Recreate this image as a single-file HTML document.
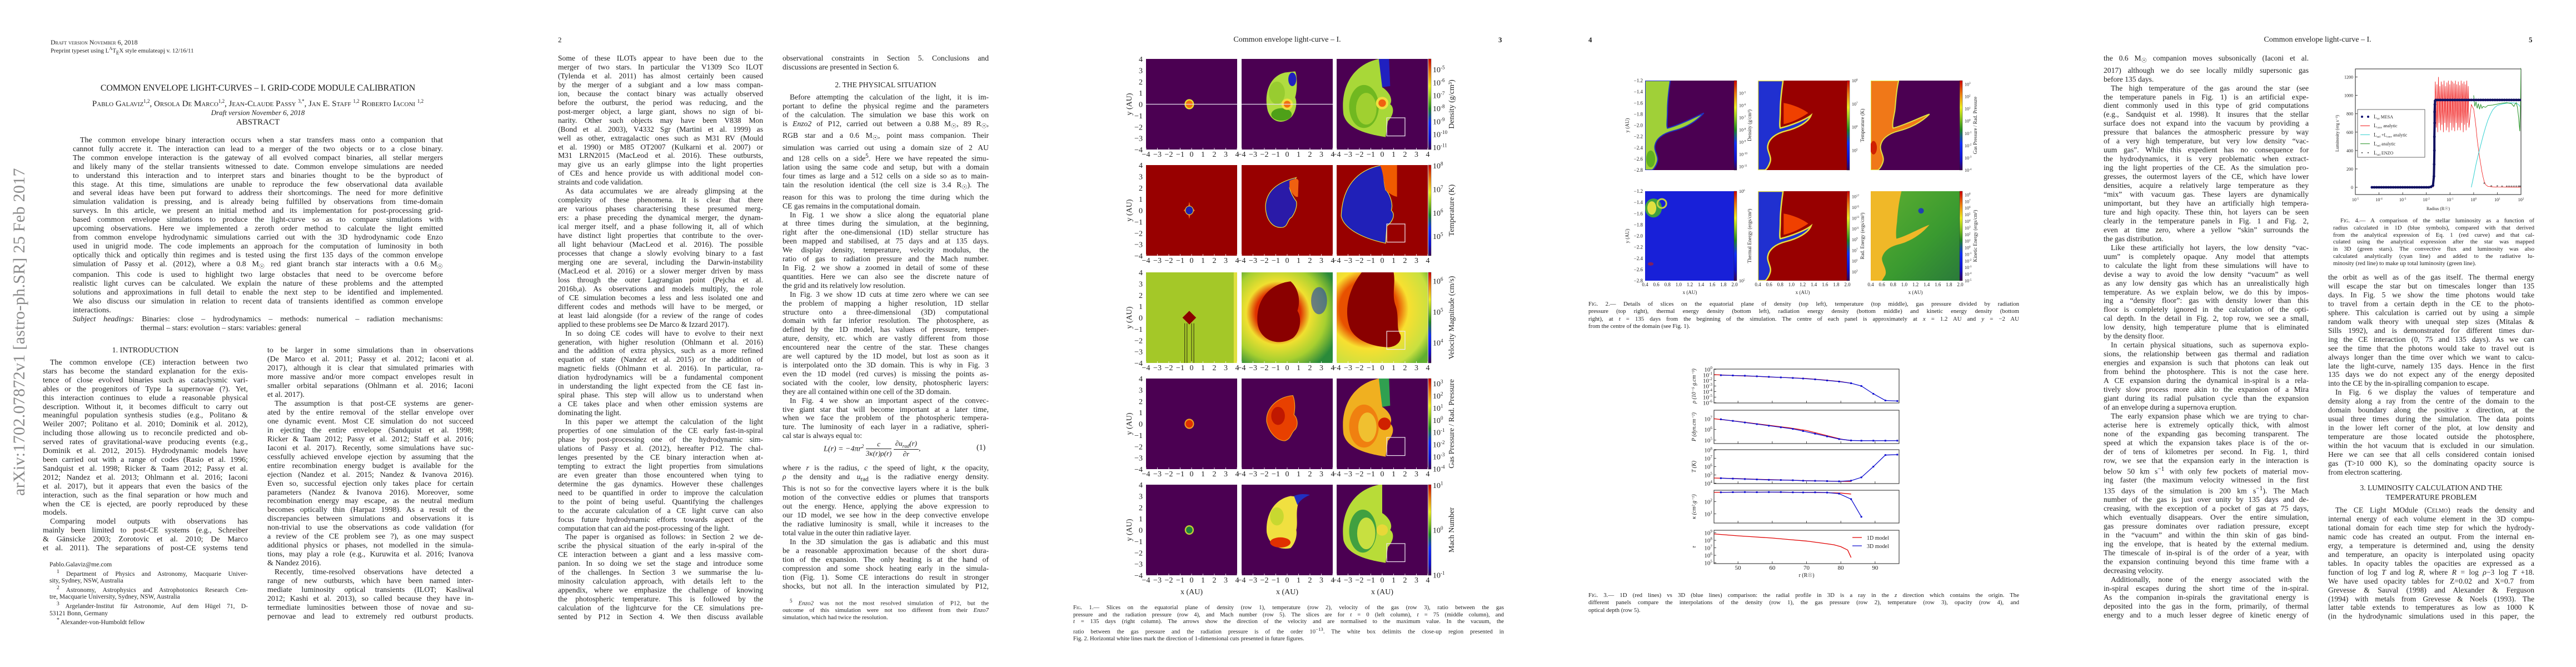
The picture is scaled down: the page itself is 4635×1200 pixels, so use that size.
<!DOCTYPE html>
<html><head><meta charset="utf-8">
<style>
html,body{margin:0;padding:0;background:#fff}
body{width:4635px;height:1200px;position:relative;overflow:hidden}
.pg{position:absolute;top:0;width:927px;height:1200px;background:#fff;overflow:hidden}
.t{position:absolute;font-family:"Liberation Serif","DejaVu Serif",serif;color:#1c1c1c}
.t div{white-space:nowrap;text-align:justify;text-align-last:justify;overflow:hidden}
.t div.e{text-align-last:left}
.t div.i{text-indent:13px}
.ab{position:absolute;font-family:"Liberation Serif",serif;color:#1c1c1c;white-space:nowrap}
.c{text-align:center}
.sc{font-variant:small-caps}
svg text{font-family:"Liberation Serif",serif}
</style></head>
<body>

<!-- ================= PAGE 1 ================= -->
<div class="pg" style="left:0">
  <div class="ab" style="left:18px;top:892px;transform-origin:0 0;transform:rotate(-90deg);font-size:30px;color:#8a8a8a;letter-spacing:0.3px">arXiv:1702.07872v1  [astro-ph.SR]  25 Feb 2017</div>
  <div class="ab sc" style="left:91px;top:69px;font-size:12px">Draft version November 6, 2018</div>
  <div class="ab" style="left:91px;top:83px;font-size:11px">Preprint typeset using L<sup style="font-size:8px">A</sup>T<sub style="font-size:9px">E</sub>X style emulateapj v. 12/16/11</div>
  <div class="ab c" style="left:100px;width:728px;top:150px;font-size:16px;letter-spacing:-0.2px">COMMON ENVELOPE LIGHT-CURVES – I. GRID-CODE MODULE CALIBRATION</div>
  <div class="ab c sc" style="left:100px;width:728px;top:177px;font-size:15px">Pablo Galaviz<sup style="font-size:9px">1,2</sup>, Orsola De Marco<sup style="font-size:9px">1,2</sup>, Jean-Claude Passy <sup style="font-size:9px">3,*</sup>, Jan E. Staff <sup style="font-size:9px">1,2</sup> Roberto Iaconi <sup style="font-size:9px">1,2</sup></div>
  <div class="ab c" style="left:100px;width:728px;top:195px;font-size:13px;font-style:italic">Draft version November 6, 2018</div>
  <div class="ab c" style="left:100px;width:728px;top:212px;font-size:15px">ABSTRACT</div>
  <div class="t" style="left:131px;top:245px;width:666px;font-size:14px;line-height:15.9px">
<div class="i">The common envelope binary interaction occurs when a star transfers mass onto a companion that</div>
<div>cannot fully accrete it. The interaction can lead to a merger of the two objects or to a close binary.</div>
<div>The common envelope interaction is the gateway of all evolved compact binaries, all stellar mergers</div>
<div>and likely many of the stellar transients witnessed to date. Common envelope simulations are needed</div>
<div>to understand this interaction and to interpret stars and binaries thought to be the byproduct of</div>
<div>this stage. At this time, simulations are unable to reproduce the few observational data available</div>
<div>and several ideas have been put forward to address their shortcomings. The need for more definitive</div>
<div>simulation validation is pressing, and is already being fulfilled by observations from time-domain</div>
<div>surveys. In this article, we present an initial method and its implementation for post-processing grid-</div>
<div>based common envelope simulations to produce the light-curve so as to compare simulations with</div>
<div>upcoming observations. Here we implemented a zeroth order method to calculate the light emitted</div>
<div>from common envelope hydrodynamic simulations carried out with the 3D hydrodynamic code Enzo</div>
<div>used in unigrid mode. The code implements an approach for the computation of luminosity in both</div>
<div>optically thick and optically thin regimes and is tested using the first 135 days of the common envelope</div>
<div>simulation of Passy et al. (2012), where a 0.8 M<sub>☉</sub> red giant branch star interacts with a 0.6 M<sub>☉</sub></div>
<div>companion. This code is used to highlight two large obstacles that need to be overcome before</div>
<div>realistic light curves can be calculated. We explain the nature of these problems and the attempted</div>
<div>solutions and approximations in full detail to enable the next step to be identified and implemented.</div>
<div>We also discuss our simulation in relation to recent data of transients identified as common envelope</div>
<div class="e">interactions.</div>
<div><i>Subject headings:</i> Binaries: close – hydrodynamics – methods: numerical – radiation mechanisms:</div>
<div class="e" style="padding-left:122px">thermal – stars: evolution – stars: variables: general</div>
  </div>
  <div class="ab c" style="left:77px;width:369px;top:623px;font-size:14px">1. INTRODUCTION</div>
  <div class="t" style="left:77px;top:645px;width:369px;font-size:14px;line-height:15.9px">
<div class="i">The common envelope (CE) interaction between two</div>
<div>stars has become the standard explanation for the exis-</div>
<div>tence of close evolved binaries such as cataclysmic vari-</div>
<div>ables or the progenitors of Type Ia supernovae (?). Yet,</div>
<div>this interaction continues to elude a reasonable physical</div>
<div>description. Without it, it becomes difficult to carry out</div>
<div>meaningful population synthesis studies (e.g., Politano &amp;</div>
<div>Weiler 2007; Politano et al. 2010; Dominik et al. 2012),</div>
<div>including those allowing us to reconcile predicted and ob-</div>
<div>served rates of gravitational-wave producing events (e.g.,</div>
<div>Dominik et al. 2012, 2015). Hydrodynamic models have</div>
<div>been carried out with a range of codes (Rasio et al. 1996;</div>
<div>Sandquist et al. 1998; Ricker &amp; Taam 2012; Passy et al.</div>
<div>2012; Nandez et al. 2013; Ohlmann et al. 2016; Iaconi</div>
<div>et al. 2017), but it appears that even the basics of the</div>
<div>interaction, such as the final separation or how much and</div>
<div>when the CE is ejected, are poorly reproduced by these</div>
<div class="e">models.</div>
<div class="i">Comparing model outputs with observations has</div>
<div>mainly been limited to post-CE systems (e.g., Schreiber</div>
<div>&amp; Gänsicke 2003; Zorotovic et al. 2010; De Marco</div>
<div>et al. 2011). The separations of post-CE systems tend</div>
  </div>
  <div class="t" style="left:89px;top:1010px;width:357px;font-size:11.5px;line-height:12.7px">
<div class="e">Pablo.Galaviz@me.com</div>
<div class="i"><sup>1</sup> Department of Physics and Astronomy, Macquarie Univer-</div>
<div class="e">sity, Sydney, NSW, Australia</div>
<div class="i"><sup>2</sup> Astronomy, Astrophysics and Astrophotonics Research Cen-</div>
<div class="e">tre, Macquarie University, Sydney, NSW, Australia</div>
<div class="i"><sup>3</sup> Argelander-Institut für Astronomie, Auf dem Hügel 71, D-</div>
<div class="e">53121 Bonn, Germany</div>
<div class="e" style="padding-left:13px"><sup>*</sup> Alexander-von-Humboldt fellow</div>
  </div>
  <div class="t" style="left:481px;top:623px;width:371px;font-size:14px;line-height:15.97px">
<div>to be larger in some simulations than in observations</div>
<div>(De Marco et al. 2011; Passy et al. 2012; Iaconi et al.</div>
<div>2017), although it is clear that simulated primaries with</div>
<div>more massive and/or more compact envelopes result in</div>
<div>smaller orbital separations (Ohlmann et al. 2016; Iaconi</div>
<div class="e">et al. 2017).</div>
<div class="i">The assumption is that post-CE systems are gener-</div>
<div>ated by the entire removal of the stellar envelope over</div>
<div>one dynamic event. Most CE simulation do not succeed</div>
<div>in ejecting the entire envelope (Sandquist et al. 1998;</div>
<div>Ricker &amp; Taam 2012; Passy et al. 2012; Staff et al. 2016;</div>
<div>Iaconi et al. 2017). Recently, some simulations have suc-</div>
<div>cessfully achieved envelope ejection by assuming that the</div>
<div>entire recombination energy budget is available for the</div>
<div>ejection (Nandez et al. 2015; Nandez &amp; Ivanova 2016).</div>
<div>Even so, successful ejection only takes place for certain</div>
<div>parameters (Nandez &amp; Ivanova 2016). Moreover, some</div>
<div>recombination energy may escape, as the neutral medium</div>
<div>becomes optically thin (Harpaz 1998). As a result of the</div>
<div>discrepancies between simulations and observations it is</div>
<div>non-trivial to use the observations as code validation (for</div>
<div>a review of the CE problem see ?), as one may suspect</div>
<div>additional physics or phases, not modelled in the simula-</div>
<div>tions, may play a role (e.g., Kuruwita et al. 2016; Ivanova</div>
<div class="e">&amp; Nandez 2016).</div>
<div class="i">Recently, time-resolved observations have detected a</div>
<div>range of new outbursts, which have been named inter-</div>
<div>mediate luminosity optical transients (ILOT; Kasliwal</div>
<div>2012; Kashi et al. 2013), so called because they have in-</div>
<div>termediate luminosities between those of novae and su-</div>
<div>pernovae and lead to extremely red outburst products.</div>
  </div>
</div>

<!-- ================= PAGE 2 ================= -->
<div class="pg" style="left:927px">
  <div class="ab" style="left:77px;top:64px;font-size:13px">2</div>
  <div class="t" style="left:77px;top:97px;width:369px;font-size:13.6px;line-height:15.95px">
<div>Some of these ILOTs appear to have been due to the</div>
<div>merger of two stars. In particular the V1309 Sco ILOT</div>
<div>(Tylenda et al. 2011) has almost certainly been caused</div>
<div>by the merger of a subgiant and a low mass compan-</div>
<div>ion, because the contact binary was actually observed</div>
<div>before the outburst, the period was reducing, and the</div>
<div>post-merger object, a large giant, shows no sign of bi-</div>
<div>narity. Other such objects may have been V838 Mon</div>
<div>(Bond et al. 2003), V4332 Sgr (Martini et al. 1999) as</div>
<div>well as other, extragalactic ones such as M31 RV (Mould</div>
<div>et al. 1990) or M85 OT2007 (Kulkarni et al. 2007) or</div>
<div>M31 LRN2015 (MacLeod et al. 2016). These outbursts,</div>
<div>may give us an early glimpse into the light properties</div>
<div>of CEs and hence provide us with additional model con-</div>
<div class="e">straints and code validation.</div>
<div class="i">As data accumulates we are already glimpsing at the</div>
<div>complexity of these phenomena. It is clear that there</div>
<div>are various phases characterising these presumed merg-</div>
<div>ers: a phase preceding the dynamical merger, the dynam-</div>
<div>ical merger itself, and a phase following it, all of which</div>
<div>have distinct light properties that contribute to the over-</div>
<div>all light behaviour (MacLeod et al. 2016). The possible</div>
<div>processes that change a slowly evolving binary to a fast</div>
<div>merging one are several, including the Darwin-instability</div>
<div>(MacLeod et al. 2016) or a slower merger driven by mass</div>
<div>loss through the outer Lagrangian point (Pejcha et al.</div>
<div>2016b,a). As observations and models multiply, the role</div>
<div>of CE simulation becomes a less and less isolated one and</div>
<div>different codes and methods will have to be merged, or</div>
<div>at least laid alongside (for a review of the range of codes</div>
<div class="e">applied to these problems see De Marco &amp; Izzard 2017).</div>
<div class="i">In so doing CE codes will have to evolve to their next</div>
<div>generation, with higher resolution (Ohlmann et al. 2016)</div>
<div>and the addition of extra physics, such as a more refined</div>
<div>equation of state (Nandez et al. 2015) or the addition of</div>
<div>magnetic fields (Ohlmann et al. 2016). In particular, ra-</div>
<div>diation hydrodynamics will be a fundamental component</div>
<div>in understanding the light expected from the CE fast in-</div>
<div>spiral phase. This step will allow us to understand when</div>
<div>a CE takes place and when other emission systems are</div>
<div class="e">dominating the light.</div>
<div class="i">In this paper we attempt the calculation of the light</div>
<div>properties of one simulation of the CE early fast-in-spiral</div>
<div>phase by post-processing one of the hydrodynamic sim-</div>
<div>ulations of Passy et al. (2012), hereafter P12. The chal-</div>
<div>lenges presented by the CE binary interaction when at-</div>
<div>tempting to extract the light properties from simulations</div>
<div>are even greater than those encountered when tying to</div>
<div>determine the gas dynamics. However these challenges</div>
<div>need to be quantified in order to improve the calculation</div>
<div>to the point of being useful. Quantifying the challenges</div>
<div>to the accurate calculation of a CE light curve can also</div>
<div>focus future hydrodynamic efforts towards aspect of the</div>
<div class="e">computation that can aid the post-processing of the light.</div>
<div class="i">The paper is organised as follows: in Section 2 we de-</div>
<div>scribe the physical situation of the early in-spiral of the</div>
<div>CE interaction between a giant and a less massive com-</div>
<div>panion. In so doing we set the stage and introduce some</div>
<div>of the challenges. In Section 3 we summarise the lu-</div>
<div>minosity calculation approach, with details left to the</div>
<div>appendix, where we emphasize the challenge of knowing</div>
<div>the photospheric temperature. This is followed by the</div>
<div>calculation of the lightcurve for the CE simulations pre-</div>
<div>sented by P12 in Section 4. We then discuss available</div>
  </div>
  <div class="t" style="left:481px;top:97px;width:371px;font-size:13.6px;line-height:15.95px">
<div>observational constraints in Section 5. Conclusions and</div>
<div class="e">discussions are presented in Section 6.</div>
  </div>
  <div class="ab c" style="left:481px;width:371px;top:145px;font-size:13.5px">2. THE PHYSICAL SITUATION</div>
  <div class="t" style="left:481px;top:167px;width:371px;font-size:13.6px;line-height:15.9px">
<div class="i">Before attempting the calculation of the light, it is im-</div>
<div>portant to define the physical regime and the parameters</div>
<div>of the calculation. The simulation we base this work on</div>
<div>is <i>Enzo2</i> of P12, carried out between a 0.88 M<sub>☉</sub>, 89 R<sub>☉</sub>,</div>
<div>RGB star and a 0.6 M<sub>☉</sub>, point mass companion. Their</div>
<div>simulation was carried out using a domain size of 2 AU</div>
<div>and 128 cells on a side<sup>5</sup>. Here we have repeated the simu-</div>
<div>lation using the same code and setup, but with a domain</div>
<div>four times as large and a 512 cells on a side so as to main-</div>
<div>tain the resolution identical (the cell size is 3.4 R<sub>☉</sub>). The</div>
<div>reason for this was to prolong the time during which the</div>
<div class="e">CE gas remains in the computational domain.</div>
<div class="i">In Fig. 1 we show a slice along the equatorial plane</div>
<div>at three times during the simulation, at the beginning,</div>
<div>right after the one-dimensional (1D) stellar structure has</div>
<div>been mapped and stabilised, at 75 days and at 135 days.</div>
<div>We display density, temperature, velocity modulus, the</div>
<div>ratio of gas to radiation pressure and the Mach number.</div>
<div>In Fig. 2 we show a zoomed in detail of some of these</div>
<div>quantities. Here we can also see the discrete nature of</div>
<div class="e">the grid and its relatively low resolution.</div>
<div class="i">In Fig. 3 we show 1D cuts at time zero where we can see</div>
<div>the problem of mapping a higher resolution, 1D stellar</div>
<div>structure onto a three-dimensional (3D) computational</div>
<div>domain with far inferior resolution. The photosphere, as</div>
<div>defined by the 1D model, has values of pressure, temper-</div>
<div>ature, density, etc. which are vastly different from those</div>
<div>encountered near the centre of the star. These changes</div>
<div>are well captured by the 1D model, but lost as soon as it</div>
<div>is interpolated onto the 3D domain. This is why in Fig. 3</div>
<div>even the 1D model (red curves) is missing the points as-</div>
<div>sociated with the cooler, low density, photospheric layers:</div>
<div class="e">they are all contained within one cell of the 3D domain.</div>
<div class="i">In Fig. 4 we show an important aspect of the convec-</div>
<div>tive giant star that will become important at a later time,</div>
<div>when we face the problem of the photospheric tempera-</div>
<div>ture. The luminosity of each layer in a radiative, spheri-</div>
<div class="e">cal star is always equal to:</div>
  </div>
  <div class="ab" style="left:555px;top:790px;font-size:14px;font-style:italic">
    <span style="display:inline-block;vertical-align:middle">L(r) = −4πr<sup style="font-size:9px">2</sup></span>
    <span style="display:inline-block;vertical-align:middle;text-align:center;font-size:13px"><span style="display:block;border-bottom:1px solid #222;padding:0 3px">c</span><span style="display:block">3κ(r)ρ(r)</span></span>
    <span style="display:inline-block;vertical-align:middle;text-align:center;font-size:13px"><span style="display:block;border-bottom:1px solid #222;padding:0 3px">∂u<sub style="font-size:9px">rad</sub>(r)</span><span style="display:block">∂r</span></span>,
  </div>
  <div class="ab" style="left:830px;top:798px;font-size:14px">(1)</div>
  <div class="t" style="left:481px;top:834px;width:371px;font-size:13.6px;line-height:16px">
<div>where <i>r</i> is the radius, <i>c</i> the speed of light, <i>κ</i> the opacity,</div>
<div><i>ρ</i> the density and <i>u</i><sub>rad</sub> is the radiative energy density.</div>
<div>This is not so for the convective layers where it is the bulk</div>
<div>motion of the convective eddies or plumes that transports</div>
<div>out the energy. Hence, applying the above expression to</div>
<div>our 1D model, we see how in the deep convective envelope</div>
<div>the radiative luminosity is small, while it increases to the</div>
<div class="e">total value in the outer thin radiative layer.</div>
<div class="i">In the 3D simulation the gas is adiabatic and this must</div>
<div>be a reasonable approximation because of the short dura-</div>
<div>tion of the expansion. The only heating is at the hand of</div>
<div>compression and some shock heating early in the simula-</div>
<div>tion (Fig. 1). Some CE interactions do result in stronger</div>
<div>shocks, but not all. In the interaction simulated by P12,</div>
  </div>
  <div class="t" style="left:481px;top:1075px;width:371px;font-size:11px;line-height:12.5px">
<div class="i"><sup>5</sup> <i>Enzo2</i> was not the most resolved simulation of P12, but the</div>
<div>outcome of this simulation were not too different from their <i>Enzo7</i></div>
<div class="e">simulation, which had twice the resolution.</div>
  </div>
</div>

<!-- ================= PAGE 3 ================= -->
<div class="pg" style="left:1854px">
  <div class="ab c" style="left:262px;width:400px;top:64px;font-size:14px">Common envelope light-curve – I.</div>
  <div class="ab" style="left:842px;top:64px;font-size:13px;font-weight:bold">3</div>
  <svg id="fig1" width="927" height="1200" style="position:absolute;left:0;top:0">
    <defs>
      <linearGradient id="jet" x1="0" y1="1" x2="0" y2="0">
        <stop offset="0" stop-color="#3a0050"/><stop offset="0.12" stop-color="#1010d0"/><stop offset="0.3" stop-color="#1030ff"/>
        <stop offset="0.45" stop-color="#208a20"/><stop offset="0.6" stop-color="#a0d020"/><stop offset="0.7" stop-color="#f0f020"/>
        <stop offset="0.85" stop-color="#f08010"/><stop offset="1" stop-color="#d00000"/>
      </linearGradient>
      <radialGradient id="velbg2" cx="0.4" cy="0.45" r="0.7">
        <stop offset="0.35" stop-color="#e03000"/><stop offset="0.5" stop-color="#f0e030"/><stop offset="0.75" stop-color="#a8d030"/><stop offset="1" stop-color="#2a8a3a"/>
      </radialGradient>
      <radialGradient id="velbg3" cx="0.35" cy="0.4" r="0.8">
        <stop offset="0.4" stop-color="#e85000"/><stop offset="0.55" stop-color="#f8e030"/><stop offset="0.85" stop-color="#c8e040"/><stop offset="1" stop-color="#60b030"/>
      </radialGradient>
    </defs>
    <!-- Row 1 density -->
    <svg x="208" y="106" width="164" height="163" viewBox="-4 -4 8 8" preserveAspectRatio="none">
      <rect x="-4" y="-4" width="8" height="8" fill="#4b0052"/>
      <ellipse cx="-0.2" cy="0" rx="0.42" ry="0.45" fill="#e8e030"/><ellipse cx="-0.2" cy="0" rx="0.3" ry="0.33" fill="#f07010"/>
      <line x1="-4" y1="0" x2="4" y2="0" stroke="#e8e0f0" stroke-width="0.06"/>
    </svg>
    <svg x="380" y="106" width="164" height="163" viewBox="-4 -4 8 8" preserveAspectRatio="none">
      <rect x="-4" y="-4" width="8" height="8" fill="#4b0052"/>
      <path d="M-0.2,-2.8 C-1.5,-2.5 -2.1,-1 -1.7,0.6 C-1.3,1.7 -0.3,1.8 0.4,1.1 C0.8,0.6 0.9,-0.2 0.7,-0.6 C0.9,-1.2 0.9,-2.6 0.7,-2.9 Z" fill="#b0dc40"/>
      <ellipse cx="-0.5" cy="0.9" rx="0.9" ry="0.55" fill="#4ea018"/>
      <ellipse cx="0.45" cy="-2.2" rx="0.35" ry="0.6" fill="#2020c0"/>
      <ellipse cx="-0.9" cy="-1" rx="0.7" ry="1" fill="#98cc30"/>
      <circle cx="0" cy="0" r="0.5" fill="#f0e040"/><circle cx="0" cy="0" r="0.3" fill="#f07010"/>
      <line x1="-4" y1="0" x2="4" y2="0" stroke="#e8e0f0" stroke-width="0.06"/>
    </svg>
    <svg x="551" y="106" width="164" height="163" viewBox="-4 -4 8 8" preserveAspectRatio="none">
      <rect x="-4" y="-4" width="8" height="8" fill="#4b0052"/>
      <path d="M-0.3,-4 C-2.6,-3.5 -3.7,-1.5 -3.4,0.9 C-3.1,2.1 -1.6,2.6 0.3,2.9 L0.5,1.5 C1,1 1.1,0.3 0.7,0 C1,-0.5 0.5,-1.2 0,-1.5 L0,-4 Z" fill="#a8d838"/>
      <path d="M-0.3,-4 L0.6,-4 L0.7,-1.6 L0,-1.5 Z" fill="#2020c0"/>
      <ellipse cx="-1.6" cy="0.2" rx="1.3" ry="1.9" fill="#70b820"/>
      <ellipse cx="-1.4" cy="0.4" rx="0.9" ry="1.4" fill="#a0d030"/>
      <circle cx="0" cy="-0.1" r="0.55" fill="#f0e040"/><circle cx="0" cy="-0.1" r="0.33" fill="#f06010"/>
      <rect x="0.4" y="1.2" width="1.6" height="1.6" fill="none" stroke="#f0e8f0" stroke-width="0.06"/>
    </svg>
    <!-- Row 2 temperature -->
    <svg x="208" y="297" width="164" height="163" viewBox="-4 -4 8 8" preserveAspectRatio="none">
      <rect x="-4" y="-4" width="8" height="8" fill="#980000"/>
      <path d="M-0.2,-0.75 L-0.1,-0.35 L0.3,0 L-0.1,0.35 L-0.2,0.75 L-0.3,0.35 L-0.7,0 L-0.3,-0.35 Z" fill="#f06010"/>
      <ellipse cx="-0.2" cy="0" rx="0.35" ry="0.38" fill="#2020b0" stroke="#e8e040" stroke-width="0.05"/>
    </svg>
    <svg x="380" y="297" width="164" height="163" viewBox="-4 -4 8 8" preserveAspectRatio="none">
      <rect x="-4" y="-4" width="8" height="8" fill="#980000"/>
      <path d="M0.8,-2.9 C-0.4,-2.6 -1.8,-2 -1.9,-0.4 C-1.9,0.8 -1.3,1.6 -0.4,1.5 C0.1,1.4 0,0.8 0.4,0.6 C0.7,0.2 0.9,-0.4 0.8,-0.8 C0.5,-1.2 0.3,-1.6 0.2,-2 Z" fill="#2a1aa8" stroke="#e8e040" stroke-width="0.06"/>
      <path d="M0.2,-2.6 C0.6,-2.8 0.9,-2.9 1,-2.6 L0.95,-1.2 C0.7,-1.1 0.4,-1.5 0.2,-2 Z" fill="#f06010"/>
    </svg>
    <svg x="551" y="297" width="164" height="163" viewBox="-4 -4 8 8" preserveAspectRatio="none">
      <rect x="-4" y="-4" width="8" height="8" fill="#980000"/>
      <path d="M0,-4 C-2.3,-3.6 -3.5,-2 -3.6,0.5 C-3.4,1.5 -2,2.4 0.3,2.9 L0.4,1.4 C0.9,1 1.2,0.4 0.8,0 C1,-0.6 0.6,-1.6 0.3,-1.8 C0.1,-2.6 0.1,-3.4 0.2,-4 Z" fill="#2020b8" stroke="#e8e040" stroke-width="0.06"/>
      <path d="M-0.2,-4 L1.3,-4 L1.3,-1.2 C0.9,-1.3 0.6,-1.5 0.3,-1.8 C0.1,-2.6 0.1,-3.4 -0.2,-4 Z" fill="#f05a00"/>
      <rect x="0.4" y="1.2" width="1.6" height="1.6" fill="none" stroke="#f0e8f0" stroke-width="0.06"/>
    </svg>
    <!-- Row 3 velocity -->
    <svg x="208" y="490" width="164" height="163" viewBox="-4 -4 8 8" preserveAspectRatio="none">
      <rect x="-4" y="-4" width="8" height="8" fill="#a4c828"/>
      <rect x="3.7" y="-4" width="0.3" height="8" fill="#e0e040"/>
      <path d="M-0.2,-0.6 L0.4,0 L-0.2,0.6 L-0.8,0 Z" fill="#8a0000"/>
      <g stroke="#303010" stroke-width="0.05"><line x1="-0.6" y1="0.5" x2="-0.6" y2="4"/><line x1="-0.4" y1="0.5" x2="-0.4" y2="4"/><line x1="0" y1="0.5" x2="0" y2="4"/><line x1="0.2" y1="0.5" x2="0.2" y2="4"/></g>
    </svg>
    <svg x="380" y="490" width="164" height="163" viewBox="-4 -4 8 8" preserveAspectRatio="none">
      <rect x="-4" y="-4" width="8" height="8" fill="url(#velbg2)"/>
      <ellipse cx="2.8" cy="-1.5" rx="0.7" ry="1.2" fill="#2040b0" opacity="0.6"/>
      <path d="M0.3,-3.2 C-1.5,-3 -2.8,-1.6 -2.6,0.5 C-2.4,2 -0.8,2.6 0.5,1.8 C1.2,1.2 1.3,0 0.9,-0.6 C1.2,-1.5 1,-2.6 0.3,-3.2 Z" fill="#8a0000"/>
    </svg>
    <svg x="551" y="490" width="164" height="163" viewBox="-4 -4 8 8" preserveAspectRatio="none">
      <rect x="-4" y="-4" width="8" height="8" fill="url(#velbg3)"/>
      <path d="M-1.8,-4 L1,-4 C1.2,-3 0.8,-2 1.2,-1 C1.5,0 1.2,1 1.6,1.5 C1.8,2.2 1,2.7 0.3,2.6 C-1,2.5 -2.3,2 -2.8,1 C-3.4,-0.5 -3,-2.5 -1.8,-4 Z" fill="#8a0000"/>
      <rect x="0.4" y="1.2" width="1.6" height="1.6" fill="none" stroke="#f0e8f0" stroke-width="0.06"/>
    </svg>
    <!-- Row 4 gas/rad pressure -->
    <svg x="208" y="681" width="164" height="163" viewBox="-4 -4 8 8" preserveAspectRatio="none">
      <rect x="-4" y="-4" width="8" height="8" fill="#4b0052"/>
      <ellipse cx="-0.2" cy="0" rx="0.42" ry="0.45" fill="#f0a020"/><ellipse cx="-0.2" cy="0" rx="0.32" ry="0.34" fill="#e03000"/>
    </svg>
    <svg x="380" y="681" width="164" height="163" viewBox="-4 -4 8 8" preserveAspectRatio="none">
      <rect x="-4" y="-4" width="8" height="8" fill="#4b0052"/>
      <path d="M0.5,-2.5 C-0.8,-2.4 -1.9,-1.4 -1.8,-0.2 C-1.6,0.8 -0.9,1.5 -0.2,1.5 C0.4,1.3 0.3,0.8 0.7,0.5 C1,0.1 0.9,-0.5 0.6,-0.8 C0.7,-1.4 0.7,-2 0.5,-2.5 Z" fill="#e84000" stroke="#f0a020" stroke-width="0.06"/>
      <ellipse cx="-0.8" cy="-0.7" rx="0.6" ry="0.8" fill="#c01800"/>
    </svg>
    <svg x="551" y="681" width="164" height="163" viewBox="-4 -4 8 8" preserveAspectRatio="none">
      <rect x="-4" y="-4" width="8" height="8" fill="#4b0052"/>
      <path d="M-0.3,-4 C-2.6,-3.5 -3.7,-1.5 -3.4,0.9 C-3.1,2.1 -1.6,2.6 0.3,2.9 L0.5,1.5 C1,1 1.1,0.3 0.7,0 C1,-0.5 0.5,-1.2 0,-1.5 L0,-4 Z" fill="#f0b020"/>
      <path d="M-0.3,-4 L0.6,-4 L0.7,-1.6 L0,-1.5 Z" fill="#30a050"/>
      <ellipse cx="-1.6" cy="0.2" rx="1.3" ry="1.9" fill="#f08010"/>
      <ellipse cx="-1.3" cy="0.3" rx="0.8" ry="1.3" fill="#f0c030"/>
      <circle cx="0.2" cy="0" r="0.55" fill="#d02000"/>
      <rect x="0.4" y="1.2" width="1.6" height="1.6" fill="none" stroke="#f0e8f0" stroke-width="0.06"/>
    </svg>
    <!-- Row 5 Mach -->
    <svg x="208" y="872" width="164" height="163" viewBox="-4 -4 8 8" preserveAspectRatio="none">
      <rect x="-4" y="-4" width="8" height="8" fill="#4b0052"/>
      <ellipse cx="-0.2" cy="0" rx="0.4" ry="0.42" fill="#c0d030"/><ellipse cx="-0.2" cy="0" rx="0.28" ry="0.3" fill="#208040"/>
    </svg>
    <svg x="380" y="872" width="164" height="163" viewBox="-4 -4 8 8" preserveAspectRatio="none">
      <rect x="-4" y="-4" width="8" height="8" fill="#4b0052"/>
      <path d="M0.3,-3 C-1.2,-2.7 -1.9,-1.3 -1.8,0.2 C-1.6,1.4 -0.6,1.8 0.3,1.6 C0.7,1.2 0.9,0.5 0.8,0 C1,-0.8 0.6,-1.8 1.2,-2.9 Z" fill="#f0e040"/>
      <path d="M0.6,-3 C1,-3.2 1.6,-3.2 2,-3.1 C1.5,-2.9 1.1,-2.6 0.9,-2.2 Z" fill="#2030c0"/>
      <ellipse cx="-0.6" cy="1.1" rx="0.9" ry="0.45" fill="#e03000"/>
      <ellipse cx="-0.9" cy="-1.2" rx="0.6" ry="0.8" fill="#c8d830"/>
    </svg>
    <svg x="551" y="872" width="164" height="163" viewBox="-4 -4 8 8" preserveAspectRatio="none">
      <rect x="-4" y="-4" width="8" height="8" fill="#4b0052"/>
      <path d="M-0.3,-4 C-2.6,-3.5 -3.7,-1.5 -3.4,0.9 C-3.1,2.1 -1.6,2.6 0.3,2.9 L0.5,1.5 C1,1 1.1,0.3 0.7,0 C1,-0.5 0.5,-1.2 0,-1.5 L0,-4 Z" fill="#b8dc38"/>
      <ellipse cx="-1.7" cy="0.1" rx="1.2" ry="1.9" fill="#40a040"/>
      <ellipse cx="-1.4" cy="0.3" rx="0.8" ry="1.4" fill="#c8e040"/>
      <circle cx="0" cy="0" r="0.5" fill="#e8d838"/>
      <rect x="0.4" y="1.2" width="1.6" height="1.6" fill="none" stroke="#f0e8f0" stroke-width="0.06"/>
    </svg>
    <g id="fig1axes"></g>
  </svg>
  <div class="t" style="left:77px;top:1088px;width:775px;font-size:10.6px;line-height:12.5px">
<div><span class="sc">Fig.</span> 1.— Slices on the equatorial plane of density (row 1), temperature (row 2), velocity of the gas (row 3), ratio between the gas</div>
<div>pressure and the radiation pressure (row 4), and Mach number (row 5). The slices are for <i>t</i> = 0 (left column), <i>t</i> = 75 (middle column), and</div>
<div><i>t</i> = 135 days (right column). The arrows show the direction of the velocity and are normalised to the maximum value. In the vacuum, the</div>
<div>ratio between the gas pressure and the radiation pressure is of the order 10<sup>−13</sup>. The white box delimits the close-up region presented in</div>
<div class="e">Fig. 2. Horizontal white lines mark the direction of 1-dimensional cuts presented in future figures.</div>
  </div>
</div>

<!-- ================= PAGE 4 ================= -->
<div class="pg" style="left:2781px">
  <div class="ab" style="left:77px;top:64px;font-size:13px;font-weight:bold">4</div>
  <svg id="fig2" width="927" height="560" style="position:absolute;left:0;top:0">
    <defs>
      <linearGradient id="jet2" x1="0" y1="1" x2="0" y2="0">
        <stop offset="0" stop-color="#3a0050"/><stop offset="0.12" stop-color="#1010d0"/><stop offset="0.3" stop-color="#1030ff"/>
        <stop offset="0.45" stop-color="#208a20"/><stop offset="0.6" stop-color="#a0d020"/><stop offset="0.7" stop-color="#f0f020"/>
        <stop offset="0.85" stop-color="#f08010"/><stop offset="1" stop-color="#d00000"/>
      </linearGradient>
      <linearGradient id="kin" x1="0" y1="0" x2="1" y2="1">
        <stop offset="0" stop-color="#60b030"/><stop offset="0.6" stop-color="#3a9a30"/><stop offset="1" stop-color="#2a7a3a"/>
      </linearGradient>
    </defs>
    <svg x="179" y="145" width="161" height="161" viewBox="0.4 1.2 1.6 1.6" preserveAspectRatio="none">
      <rect x="0.4" y="1.2" width="1.6" height="1.6" fill="#4b0052"/>
      <path d="M0.4,1.2 L0.85,1.2 C0.82,1.4 0.8,1.6 0.8,1.75 C0.8,1.9 0.78,2 0.8,2.05 C1,2 1.3,1.85 1.45,1.78 C1.3,1.95 1.1,2.05 0.9,2.1 C0.7,2.15 0.6,2.25 0.58,2.35 C0.55,2.45 0.65,2.55 0.62,2.65 C0.6,2.72 0.55,2.8 0.52,2.8 L0.4,2.8 Z" fill="#a0d038" stroke="#2030c0" stroke-width="0.02"/>
      <ellipse cx="0.5" cy="2.6" rx="0.08" ry="0.15" fill="#60b020"/>
    </svg>
    <svg x="382" y="145" width="161" height="161" viewBox="0.4 1.2 1.6 1.6" preserveAspectRatio="none">
      <rect x="0.4" y="1.2" width="1.6" height="1.6" fill="#980000"/>
      <path d="M0.4,1.2 L0.85,1.2 C0.82,1.4 0.8,1.6 0.8,1.75 C0.8,1.9 0.78,2 0.8,2.05 C1,2 1.25,1.9 1.35,1.82 C1.3,1.95 1.1,2.05 0.9,2.1 C0.7,2.15 0.6,2.25 0.58,2.35 C0.55,2.45 0.65,2.55 0.62,2.65 C0.6,2.72 0.55,2.8 0.52,2.8 L0.4,2.8 Z" fill="#2030d0" stroke="#e8e040" stroke-width="0.025"/>
      <path d="M0.86,1.6 C1,1.62 1.2,1.7 1.3,1.78 C1.15,1.88 1,1.95 0.86,1.98 Z" fill="#f04000"/>
    </svg>
    <svg x="585" y="145" width="161" height="161" viewBox="0.4 1.2 1.6 1.6" preserveAspectRatio="none">
      <rect x="0.4" y="1.2" width="1.6" height="1.6" fill="#4b0052"/>
      <path d="M0.4,1.2 L0.9,1.2 C0.85,1.4 0.85,1.6 0.83,1.75 C0.8,1.9 0.78,2 0.8,2.05 C1,2 1.3,1.85 1.45,1.8 C1.3,1.95 1.1,2.05 0.9,2.1 C0.7,2.15 0.6,2.25 0.58,2.35 C0.55,2.45 0.65,2.55 0.62,2.65 C0.6,2.72 0.55,2.8 0.52,2.8 L0.4,2.8 Z" fill="#f07818" stroke="#e0e040" stroke-width="0.02"/>
      <ellipse cx="0.45" cy="2.4" rx="0.06" ry="0.12" fill="#d02000"/>
    </svg>
    <svg x="179" y="344" width="161" height="161" viewBox="0.4 1.2 1.6 1.6" preserveAspectRatio="none">
      <rect x="0.4" y="1.2" width="1.6" height="1.6" fill="#1820d8"/>
      <ellipse cx="0.55" cy="1.5" rx="0.15" ry="0.17" fill="#40a040"/>
      <ellipse cx="0.52" cy="1.5" rx="0.08" ry="0.12" fill="#e0e040"/>
      <ellipse cx="0.7" cy="1.42" rx="0.08" ry="0.08" fill="none" stroke="#c0d040" stroke-width="0.03"/>
      <ellipse cx="0.5" cy="2.5" rx="0.05" ry="0.03" fill="#802060"/>
    </svg>
    <svg x="382" y="344" width="161" height="161" viewBox="0.4 1.2 1.6 1.6" preserveAspectRatio="none">
      <rect x="0.4" y="1.2" width="1.6" height="1.6" fill="#980000"/>
      <path d="M0.4,1.2 L0.85,1.2 C0.82,1.4 0.8,1.6 0.8,1.75 C0.8,1.9 0.78,2 0.8,2.05 C1,2 1.25,1.9 1.35,1.82 C1.3,1.95 1.1,2.05 0.9,2.1 C0.7,2.15 0.6,2.25 0.58,2.35 C0.55,2.45 0.65,2.55 0.62,2.65 C0.6,2.72 0.55,2.8 0.52,2.8 L0.4,2.8 Z" fill="#2030d0" stroke="#e8e040" stroke-width="0.025"/>
      <path d="M0.86,1.6 C1,1.62 1.2,1.7 1.3,1.78 C1.15,1.88 1,1.95 0.86,1.98 Z" fill="#f04000"/>
    </svg>
    <svg x="585" y="344" width="161" height="161" viewBox="0.4 1.2 1.6 1.6" preserveAspectRatio="none">
      <rect x="0.4" y="1.2" width="1.6" height="1.6" fill="url(#kin)"/>
      <path d="M0.4,1.2 L0.95,1.2 C0.9,1.4 0.88,1.6 0.87,1.75 C0.85,1.9 0.85,2 0.86,2.05 C1.05,2 1.3,1.85 1.45,1.8 C1.3,1.98 1.1,2.1 0.9,2.15 C0.7,2.2 0.62,2.3 0.6,2.4 C0.6,2.5 0.7,2.6 0.66,2.7 L0.6,2.8 L0.4,2.8 Z" fill="#f0b828"/>
      <ellipse cx="1.3" cy="1.55" rx="0.05" ry="0.05" fill="#2040b0"/>
    </svg>
    <g id="fig2axes"></g>
  </svg>
  <div class="t" style="left:77px;top:541px;width:775px;font-size:10.8px;line-height:13.3px">
<div><span class="sc">Fig.</span> 2.— Details of slices on the equatorial plane of density (top left), temperature (top middle), gas pressure divided by radiation</div>
<div>pressure (top right), thermal energy density (bottom left), radiation energy density (bottom middle) and kinetic energy density (bottom</div>
<div>right), at <i>t</i> = 135 days from the beginning of the simulation. The centre of each panel is approximately at <i>x</i> = 1.2 AU and <i>y</i> = −2 AU</div>
<div class="e">from the centre of the domain (see Fig. 1).</div>
  </div>
  <svg id="fig3" width="927" height="1200" style="position:absolute;left:0;top:0;pointer-events:none"></svg>
  <div class="t" style="left:77px;top:1065px;width:775px;font-size:10.8px;line-height:13.3px">
<div><span class="sc">Fig.</span> 3.— 1D (red lines) vs 3D (blue lines) comparison: the radial profile in 3D is a ray in the <i>z</i> direction which contains the origin. The</div>
<div>different panels compare the interpolations of the density (row 1), the gas pressure (row 2), temperature (row 3), opacity (row 4), and</div>
<div class="e">optical depth (row 5).</div>
  </div>
</div>

<!-- ================= PAGE 5 ================= -->
<div class="pg" style="left:3708px">
  <div class="ab c" style="left:262px;width:400px;top:64px;font-size:14px">Common envelope light-curve – I.</div>
  <div class="ab" style="left:842px;top:64px;font-size:13px;font-weight:bold">5</div>
  <div class="t" style="left:77px;top:97px;width:369px;font-size:13.6px;line-height:15.95px">
<div>the 0.6 M<sub>☉</sub> companion moves subsonically (Iaconi et al.</div>
<div>2017) although we do see locally mildly supersonic gas</div>
<div class="e">before 135 days.</div>
<div class="i">The high temperature of the gas around the star (see</div>
<div>the temperature panels in Fig. 1) is an artificial expe-</div>
<div>dient commonly used in this type of grid computations</div>
<div>(e.g., Sandquist et al. 1998). It insures that the stellar</div>
<div>surface does not expand into the vacuum by providing a</div>
<div>pressure that balances the atmospheric pressure by way</div>
<div>of a very high temperature, but very low density “vac-</div>
<div>uum gas”. While this expedient has no consequence for</div>
<div>the hydrodynamics, it is very problematic when extract-</div>
<div>ing the light properties of the CE. As the simulation pro-</div>
<div>gresses, the outermost layers of the CE, which have lower</div>
<div>densities, acquire a relatively large temperature as they</div>
<div>“mix” with vacuum gas. These layers are dynamically</div>
<div>unimportant, but they have an artificially high tempera-</div>
<div>ture and high opacity. These thin, hot layers can be seen</div>
<div>clearly in the temperature panels in Fig. 1 and Fig. 2,</div>
<div>even at time zero, where a yellow “skin” surrounds the</div>
<div class="e">the gas distribution.</div>
<div class="i">Like these artificially hot layers, the low density “vac-</div>
<div>uum” is completely opaque. Any model that attempts</div>
<div>to calculate the light from these simulations will have to</div>
<div>devise a way to avoid the low density “vacuum” as well</div>
<div>as any low density gas which has an unrealistically high</div>
<div>temperature. As we explain below, we do this by impos-</div>
<div>ing a “density floor”: gas with density lower than this</div>
<div>floor is completely ignored in the calculation of the opti-</div>
<div>cal depth. In the detail in Fig. 2, top row, we see a small,</div>
<div>low density, high temperature plume that is eliminated</div>
<div class="e">by the density floor.</div>
<div class="i">In certain physical situations, such as supernova explo-</div>
<div>sions, the relationship between gas thermal and radiation</div>
<div>energies and expansion is such that photons can leak out</div>
<div>from behind the photosphere. This is not the case here.</div>
<div>A CE expansion during the dynamical in-spiral is a rela-</div>
<div>tively slow process more akin to the expansion of a Mira</div>
<div>giant during its radial pulsation cycle than the expansion</div>
<div class="e">of an envelope during a supernova eruption.</div>
<div class="i">The early expansion phase which we are trying to char-</div>
<div>acterise here is extremely optically thick, with almost</div>
<div>none of the expanding gas becoming transparent. The</div>
<div>speed at which the expansion takes place is of the or-</div>
<div>der of tens of kilometres per second. In Fig. 1, third</div>
<div>row, we see that the expansion early in the interaction is</div>
<div>below 50 km s<sup>−1</sup> with only few pockets of material mov-</div>
<div>ing faster (the maximum velocity witnessed in the first</div>
<div>135 days of the simulation is 200 km s<sup>−1</sup>). The Mach</div>
<div>number of the gas is just over unity by 135 days and de-</div>
<div>creasing, with the exception of a pocket of gas at 75 days,</div>
<div>which eventually disappears. Over the entire simulation,</div>
<div>gas pressure dominates over radiation pressure, except</div>
<div>in the “vacuum” and within the thin skin of gas bind-</div>
<div>ing the envelope, that is heated by the external medium.</div>
<div>The timescale of in-spiral is of the order of a year, with</div>
<div>the expansion continuing beyond this time frame with a</div>
<div class="e">decreasing velocity.</div>
<div class="i">Additionally, none of the energy associated with the</div>
<div>in-spiral escapes during the short time of the in-spiral.</div>
<div>As the companion in-spirals the gravitational energy is</div>
<div>deposited into the gas in the form, primarily, of thermal</div>
<div>energy and to a much lesser degree of kinetic energy of</div>
  </div>
  <svg id="fig4" width="927" height="400" style="position:absolute;left:0;top:0"></svg>
  <div class="t" style="left:490px;top:391px;width:362px;font-size:10.8px;line-height:12.8px">
<div class="i"><span class="sc">Fig.</span> 4.— A comparison of the stellar luminosity as a function of</div>
<div>radius calculated in 1D (blue symbols), compared with that derived</div>
<div>from the analytical expression of Eq. 1 (red curve) and that cal-</div>
<div>culated using the analytical expression after the star was mapped</div>
<div>in 3D (green stars). The convective flux and luminosity was also</div>
<div>calculated analytically (cyan line) and added to the radiative lu-</div>
<div class="e">minosity (red line) to make up total luminosity (green line).</div>
  </div>
  <div class="t" style="left:481px;top:491px;width:371px;font-size:13.6px;line-height:15.95px">
<div>the orbit as well as of the gas itself. The thermal energy</div>
<div>will escape the star but on timescales longer than 135</div>
<div>days. In Fig. 5 we show the time photons would take</div>
<div>to travel from a certain depth in the CE to the photo-</div>
<div>sphere. This calculation is carried out by using a simple</div>
<div>random walk theory with unequal step sizes (Mitalas &amp;</div>
<div>Sills 1992), and is demonstrated for different times dur-</div>
<div>ing the CE interaction (0, 75 and 135 days). As we can</div>
<div>see the time that the photons would take to travel out is</div>
<div>always longer than the time over which we want to calcu-</div>
<div>late the light-curve, namely 135 days. Hence in the first</div>
<div>135 days we do not expect any of the energy deposited</div>
<div class="e">into the CE by the in-spiralling companion to escape.</div>
<div class="i">In Fig. 6 we display the values of temperature and</div>
<div>density along a ray from the centre of the domain to the</div>
<div>domain boundary along the positive <i>x</i> direction, at the</div>
<div>usual three times during the simulation. The data points</div>
<div>in the lower left corner of the plot, at low density and</div>
<div>temperature are those located outside the photosphere,</div>
<div>within the hot vacuum that is excluded in our simulation.</div>
<div>Here we can see that all cells considered contain ionised</div>
<div>gas (T&gt;10 000 K), so the dominating opacity source is</div>
<div class="e">from electron scattering.</div>
  </div>
  <div class="ab c" style="left:481px;width:371px;top:869px;font-size:13.5px;line-height:17px">3. LUMINOSITY CALCULATION AND THE<br>TEMPERATURE PROBLEM</div>
  <div class="t" style="left:481px;top:910px;width:371px;font-size:13.6px;line-height:15.95px">
<div class="i">The CE Light MOdule (<span class="sc">Celmo</span>) reads the density and</div>
<div>internal energy of each volume element in the 3D compu-</div>
<div>tational domain for each time step for which the hydrody-</div>
<div>namic code has created an output. From the internal en-</div>
<div>ergy, a temperature is determined and, using the density</div>
<div>and temperature, an opacity is interpolated using opacity</div>
<div>tables. In opacity tables the opacities are expressed as a</div>
<div>function of log <i>T</i> and log <i>R</i>, where <i>R</i> = log <i>ρ</i>−3 log <i>T</i> +18.</div>
<div>We have used opacity tables for Z=0.02 and X=0.7 from</div>
<div>Grevesse &amp; Sauval (1998) and Alexander &amp; Ferguson</div>
<div>(1994) with metals from Grevesse &amp; Noels (1993). The</div>
<div>latter table extends to temperatures as low as 1000 K</div>
<div>(in the hydrodynamic simulations used in this paper, the</div>
  </div>
</div>

<script>
const NS = 'http://www.w3.org/2000/svg';
function mk(tag, attrs, parent) {
  const e = document.createElementNS(NS, tag);
  for (const k in attrs) e.setAttribute(k, attrs[k]);
  parent.appendChild(e);
  return e;
}
function powLabel(parent, x, y, exp, size, anchor, fam) {
  const t = mk('text', {x: x, y: y, 'font-size': size, 'text-anchor': anchor, fill: '#222', 'font-family': fam}, parent);
  
  
  t.appendChild(document.createTextNode('10'));
  const s = mk('tspan', {dy: -size * 0.4, 'font-size': size * 0.65}, t);
  s.textContent = exp;
  return t;
}

/* ---------------- Figure 1 axes ---------------- */
const f1Ticks = [-4, -3, -2, -1, 0, 1, 2, 3, 4];
const f1Exponents = [["-5","-6","-7","-8","-9","-10","-11"],["8","7","6","5"],["6","5","4"],["3","2","1","0","-1","-2","-3","-4"],["1","0","-1"]];
const f1Titles = ["Density  (g/cm³)", "Temperature  (K)", "Velocity Magnitude  (cm/s)", "Gas Pressure / Rad. Pressure", "Mach Number"];
const f1ColX = [208, 380, 551], f1RowY = [106, 297, 490, 681, 872], f1W = 164, f1H = 163;
const f1CbSpan = [[0.11,0.97],[0.0,0.78],[0.09,0.77],[0.05,0.99],[0.0,0.99]];
(function(){
  const g = document.getElementById('fig1axes');
  const ax = v => (v + 4) / 8;
  f1RowY.forEach((ry, r) => {
    f1Ticks.forEach(v => {
      const t = mk('text', {x: 202, y: ry + (1 - ax(v)) * f1H + 5, 'font-size': 14, 'text-anchor': 'end', fill: '#222'}, g);
      
      
      t.textContent = v < 0 ? '−' + (-v) : String(v);
    });
    const yl = mk('text', {x: 0, y: 0, 'font-size': 14, 'text-anchor': 'middle', fill: '#222', transform: 'translate(182,' + (ry + f1H / 2) + ') rotate(-90)'}, g);
    
    
    yl.textContent = 'y  (AU)';
    f1ColX.forEach(cx => {
      f1Ticks.forEach(v => {
        const t = mk('text', {x: cx + ax(v) * f1W, y: ry + f1H + 13, 'font-size': 14, 'text-anchor': 'middle', fill: '#222'}, g);
        
        
        t.textContent = v < 0 ? '−' + (-v) : String(v);
        const tk = mk('line', {x1: cx + ax(v) * f1W, x2: cx + ax(v) * f1W, y1: ry + f1H, y2: ry + f1H - 3, stroke: '#fff', 'stroke-width': 0.8}, g);
        
        
      });
    });
    const cb = mk('rect', {x: 716, y: ry, width: 5, height: f1H, fill: 'url(#jet)', stroke: '#222', 'stroke-width': 0.4}, g);
    
    
    const labs = f1Exponents[r], sp = f1CbSpan[r];
    labs.forEach((e, i) => {
      const f = labs.length > 1 ? sp[0] + (sp[1] - sp[0]) * i / (labs.length - 1) : sp[0];
      powLabel(g, 724, ry + f * f1H + 6, e, 14, 'start', 'Liberation Serif');
    });
    const ct = mk('text', {x: 0, y: 0, 'font-size': 14, 'text-anchor': 'middle', fill: '#222', transform: 'translate(762,' + (ry + f1H / 2) + ') rotate(-90)'}, g);
    
    
    ct.textContent = f1Titles[r];
  });
  f1ColX.forEach(cx => {
    const xl = mk('text', {x: cx + f1W / 2, y: 1069, 'font-size': 14, 'text-anchor': 'middle', fill: '#222'}, g);
    
    
    xl.textContent = 'x  (AU)';
  });
})();

/* ---------------- Figure 2 axes ---------------- */
const f2YTicks = [-1.2, -1.4, -1.6, -1.8, -2.0, -2.2, -2.4, -2.6, -2.8];
const f2XTicks = [0.4, 0.6, 0.8, 1.0, 1.2, 1.4, 1.6, 1.8, 2.0];
const f2Exponents = [["-5","-6","-7","-8","-9","-10","-11"],["8","7","6","5"],["3","2","1","0","-1","-2","-3","-4"],["6","5"],["17","15","13","11","9","7","5","3"],["8","7","6","5","4","3","2","1","0","-1","-2","-3","-4","-5"]];
const f2Titles = ["Density  (g/cm³)", "Temperature  (K)", "Gas Pressure / Rad. Pressure", "Thermal Energy  (ergs/cm³)", "Rad. Energy  (ergs/cm³)", "Kinetic Energy  (ergs/cm³)"];
const f2ColX = [179, 382, 585], f2RowY = [145, 344], f2S = 161;
const f2CbSpan = [[0.14,0.96],[0.0,0.78],[0.04,1.0],[0.0,1.0],[0.06,0.9],[0.04,1.0]];
(function(){
  const g = document.getElementById('fig2axes');
  f2RowY.forEach((ry, r) => {
    f2YTicks.forEach(v => {
      const t = mk('text', {x: 175, y: ry + (-1.2 - v) / 1.6 * f2S + 3, 'font-size': 9, 'text-anchor': 'end', fill: '#222'}, g);
      
      
      t.textContent = '−' + (-v).toFixed(1);
    });
    const yl = mk('text', {x: 0, y: 0, 'font-size': 9, 'text-anchor': 'middle', fill: '#222', transform: 'translate(150,' + (ry + f2S / 2) + ') rotate(-90)'}, g);
    
    
    yl.textContent = 'y  (AU)';
    f2ColX.forEach((cx, c) => {
      const k = r * 3 + c;
      const cb = mk('rect', {x: cx + f2S - 1, y: ry, width: 5, height: f2S, fill: 'url(#jet2)', stroke: '#222', 'stroke-width': 0.4}, g);
      
      
      const labs = f2Exponents[k], sp = f2CbSpan[k];
      labs.forEach((e, i) => {
        const f = sp[0] + (sp[1] - sp[0]) * i / (labs.length - 1);
        powLabel(g, cx + f2S + 8, ry + f * f2S + 3, e, 8, 'start', 'Liberation Serif');
      });
      const ct = mk('text', {x: 0, y: 0, 'font-size': 9, 'text-anchor': 'middle', fill: '#222', transform: 'translate(' + (cx + f2S + 30) + ',' + (ry + f2S / 2) + ') rotate(-90)'}, g);
      
      
      ct.textContent = f2Titles[k];
      if (r === 1) {
        f2XTicks.forEach(v => {
          const t = mk('text', {x: cx + (v - 0.4) / 1.6 * f2S, y: ry + f2S + 10, 'font-size': 9, 'text-anchor': 'middle', fill: '#222'}, g);
          
          
          t.textContent = v.toFixed(1);
        });
        const xl = mk('text', {x: cx + f2S / 2, y: ry + f2S + 24, 'font-size': 9, 'text-anchor': 'middle', fill: '#222'}, g);
        
        
        xl.textContent = 'x  (AU)';
      }
    });
  });
})();

/* ---------------- Figure 3 data ---------------- */
const r3d = [45, 48.5, 52, 55.5, 59, 62.5, 66, 69, 72.5, 76, 79.5, 83, 86, 89.5, 93, 96.5];
const r1d = [43, 50, 55, 60, 65, 70, 75, 80, 83];
const rho3d = [-1.05, -1.1, -1.15, -1.25, -1.35, -1.45, -1.55, -1.65, -1.8, -2.0, -2.2, -2.5, -3.0, -4.4, -5.6, -5.7];
const rho1d = [-0.95, -1.15, -1.25, -1.4, -1.5, -1.65, -1.9, -2.2, -2.5];
const pres3d = [6.95, 6.8, 6.65, 6.5, 6.35, 6.2, 6.05, 5.85, 5.6, 5.35, 5.1, 4.97, 4.95, 4.95, 4.95, 4.95];
const pres1d = [7.0, 6.75, 6.55, 6.35, 6.15, 5.9, 5.5, 5.1, 4.95];
const temp3d = [4.6, 4.55, 4.5, 4.45, 4.4, 4.38, 4.35, 4.3, 4.28, 4.25, 4.22, 4.3, 4.7, 6.0, 7.4, 7.45];
const temp1d = [4.62, 4.55, 4.48, 4.42, 4.36, 4.3, 4.26, 4.22, 4.2];
const r3dKappa = [45, 48.5, 52, 55.5, 59, 62.5, 66, 69, 72.5, 76, 79.5, 83, 86];
const kappa3d = [2.76, 2.77, 2.78, 2.77, 2.78, 2.78, 2.76, 2.75, 2.76, 2.74, 2.65, 2.2, 0.75];
const kappa1d = [2.76, 2.77, 2.77, 2.77, 2.76, 2.75, 2.74, 2.7, 2.62];
const rTau = [43, 50, 55, 60, 65, 70, 75, 78, 80, 82, 83];
const tau1d = [8.85, 8.6, 8.45, 8.3, 8.1, 7.9, 7.6, 7.4, 7.15, 6.7, 5.7];
const f3XTicks = [50, 60, 70, 80, 90];
const f3YLabels = ["ρ (10⁻⁵ g.cm⁻³)", "P (dyn.cm⁻²)", "T (K)", "κ (cm².g⁻¹)", "τ"];
const f3YTicks = [[0,-1,-2,-3,-4,-5,-6],[5,6,7],[4,5,6,7,8],[1,2],[5,6,7,8,9]];

(function(){
  const svg = document.getElementById('fig3');
  const X0 = 303, X1 = 636, xmin = 43, xmax = 97;
  const sx = v => X0 + (v - xmin) / (xmax - xmin) * (X1 - X0);
  const rows = [
    {y0: 664, y1: 725, lo: -6.05, hi: 0.05, s3: [r3d, rho3d], s1: [r1d, rho1d]},
    {y0: 738, y1: 798, lo: 4.68, hi: 7.8, s3: [r3d, pres3d], s1: [r1d, pres1d]},
    {y0: 809, y1: 870, lo: 3.95, hi: 8.05, s3: [r3d, temp3d], s1: [r1d, temp1d]},
    {y0: 882, y1: 941, lo: 0.24, hi: 2.93, s3: [r3dKappa, kappa3d], s1: [r1d, kappa1d]},
    {y0: 954, y1: 1014, lo: 4.89, hi: 9.34, s3: null, s1: [rTau, tau1d]}
  ];
  rows.forEach((row, ri) => {
    const sy = v => row.y1 - (v - row.lo) / (row.hi - row.lo) * (row.y1 - row.y0);
    const frame = mk('rect', {x: X0, y: row.y0, width: X1 - X0, height: row.y1 - row.y0, fill: 'none', stroke: '#222', 'stroke-width': 1}, svg);
    
    
    f3YTicks[ri].forEach(v => {
      powLabel(svg, X0 - 3, sy(v) + 4, String(v), 11, 'end', 'DejaVu Sans');
      const tk = mk('line', {x1: X0, x2: X0 + 4, y1: sy(v), y2: sy(v), stroke: '#222', 'stroke-width': 0.8}, svg);
      
      
    });
    f3XTicks.forEach(v => {
      const tk = mk('line', {x1: sx(v), x2: sx(v), y1: row.y1, y2: row.y1 - 4, stroke: '#222', 'stroke-width': 0.8}, svg);
      
      
    });
    const yl = mk('text', {x: 0, y: 0, 'font-size': 10, 'text-anchor': 'middle', fill: '#222', transform: 'translate(270,' + ((row.y0 + row.y1) / 2) + ') rotate(-90)', 'font-style': 'italic'}, svg);
    
    
    yl.textContent = f3YLabels[ri];
    if (row.s1) {
      const pts = row.s1[0].map((x, i) => sx(x) + ',' + sy(row.s1[1][i])).join(' ');
      const l = mk('polyline', {points: pts, fill: 'none', stroke: '#e00000', 'stroke-width': 1.3}, svg);
      
      
    }
    if (row.s3) {
      const pts = row.s3[0].map((x, i) => sx(x) + ',' + sy(row.s3[1][i])).join(' ');
      const l = mk('polyline', {points: pts, fill: 'none', stroke: '#1010d0', 'stroke-width': 1.3}, svg);
      
      
      row.s3[0].forEach((x, i) => {
        const p = mk('rect', {x: sx(x) - 1.5, y: sy(row.s3[1][i]) - 1.5, width: 3, height: 3, fill: '#1010d0'}, svg);
        
        
      });
    }
  });
  f3XTicks.forEach(v => {
    const t = mk('text', {x: sx(v), y: 1025, 'font-size': 11, 'text-anchor': 'middle', fill: '#222', 'font-family': 'DejaVu Sans'}, svg);
    
    
    t.textContent = String(v);
  });
  const xl = mk('text', {x: (X0 + X1) / 2, y: 1038, 'font-size': 10, 'text-anchor': 'middle', fill: '#222'}, svg);
  
  
  xl.textContent = 'r (R☉)';
  const lg1 = mk('line', {x1: 552, x2: 569, y1: 967, y2: 967, stroke: '#e00000', 'stroke-width': 1.3}, svg);
  
  
  const lt1 = mk('text', {x: 578, y: 971, 'font-size': 10, fill: '#222', 'font-family': 'DejaVu Sans'}, svg);
  
  
  lt1.textContent = '1D model';
  const lg2 = mk('line', {x1: 552, x2: 569, y1: 982, y2: 982, stroke: '#1010d0', 'stroke-width': 1.3}, svg);
  
  
  const lt2 = mk('text', {x: 578, y: 986, 'font-size': 10, fill: '#222', 'font-family': 'DejaVu Sans'}, svg);
  
  
  lt2.textContent = '3D model';
})();

/* ---------------- Figure 4 data ---------------- */
const mesaLogR = [-4.3,-4.2,-4.1,-4.0,-3.9,-3.8,-3.7,-3.6,-3.5,-3.4,-3.3,-3.2,-3.1,-3.0,-2.9,-2.8,-2.7,-2.6,-2.5,-2.4,-2.3,-2.2,-2.1,-2.0,-1.9,-1.8,-1.72,-1.68,-1.67,-1.66,-1.66,-1.65,-1.65,-1.64,-1.63,-1.6,-1.5,-1.4,-1.3,-1.2,-1.1,-1.0,-0.9,-0.8,-0.7,-0.6,-0.5,-0.4,-0.3,-0.2,-0.1,0.0,0.1,0.2,0.3,0.4,0.5,0.6,0.7,0.8,0.9,1.0,1.1,1.2,1.3,1.4,1.5,1.6,1.7,1.8,1.9,2.0];
const mesaL = [0,0,0,0,0,0,0,0,0,0,0,0,0,0,0,0,0,0,0,0,0,0,0,0,0,5,20,120,250,400,550,700,820,900,940,950,950,950,950,950,950,950,950,950,950,950,950,950,950,950,950,950,950,950,950,950,950,950,950,950,950,950,950,950,950,950,950,950,950,950,950,950];
const convLogR = [-1.7,-1.66,-1.62,-1.58,-1.55,-1.52,-1.49,-1.46,-1.43,-1.4,-1.37,-1.34,-1.31,-1.28,-1.25,-1.22,-1.19,-1.16,-1.13,-1.1,-1.07,-1.04,-1.01,-0.98,-0.95,-0.92,-0.89,-0.86,-0.83,-0.8,-0.77,-0.74,-0.71,-0.68,-0.65,-0.62,-0.59,-0.56,-0.53,-0.5,-0.47,-0.44,-0.41,-0.38,-0.35,-0.32,-0.29,-0.26,-0.23,-0.2,-0.1,0.0,0.05,0.1,0.15,0.2,0.25,0.3,0.35,0.4,0.45,0.5,0.6,0.8,1.0,1.5,2.0];
const convL = [0,700,1150,650,1120,600,1200,700,1100,620,1150,680,1120,600,1160,700,1100,620,1140,650,1160,600,1120,700,1160,620,1150,650,1130,610,1160,700,1120,620,1150,650,1110,620,1160,700,1130,600,1150,680,1120,620,1160,700,1100,650,900,850,760,650,520,420,330,250,170,110,60,30,10,5,3,2,0];
const cyanLogR = [-0.1,0.0,0.1,0.2,0.3,0.4,0.5,0.6,0.7,0.8,0.9,1.0,1.2,1.4,1.6,1.8,1.9,1.95];
const cyanL = [0,120,250,360,460,560,650,730,790,840,870,890,905,915,920,915,900,880];
const greenLogR = [0.0,0.05,0.1,0.15,0.2,0.25,0.3,0.35,0.4,0.5,0.6,0.8,1.0,1.2,1.4,1.6,1.7,1.75,1.8,1.85,1.9,1.95,1.98,2.0];
const greenL = [1000,880,930,860,910,850,900,860,880,870,890,895,905,915,920,910,880,905,920,870,760,610,900,1300];
const enzoLogR = [0.45,0.75,1.0,1.2,1.4,1.5,1.6,1.7,1.8,1.9,1.95,2.0];
const enzoL = [40,10,10,5,5,5,5,5,5,5,5,5];
const f4YTicks = [0, 200, 400, 600, 800, 1000, 1200];
const f4XTicks = [-5, -4, -3, -2, -1, 0, 1, 2];

(function(){
  const svg = document.getElementById('fig4');
  const X0 = 530, X1 = 828, Y0 = 124, Y1 = 350;
  const sx = v => X0 + (v + 5) / 7 * (X1 - X0);
  const sy = v => 337 - v / 1200 * (337 - 138.5);
  const frame = mk('rect', {x: X0, y: Y0, width: X1 - X0, height: Y1 - Y0, fill: 'none', stroke: '#222', 'stroke-width': 1}, svg);
  
  
  const clip = mk('clipPath', {id: 'f4clip'}, svg);
  mk('rect', {x: X0, y: Y0 - 20, width: X1 - X0, height: Y1 - Y0 + 20}, clip);
  const plot = mk('g', {'clip-path': 'url(#f4clip)'}, svg);
  
  
  f4YTicks.forEach(v => {
    const t = mk('text', {x: X0 - 4, y: sy(v) + 3, 'font-size': 8, 'text-anchor': 'end', fill: '#222', 'font-family': 'DejaVu Sans'}, svg);
    
    
    t.textContent = String(v);
    const tk = mk('line', {x1: X0, x2: X0 + 4, y1: sy(v), y2: sy(v), stroke: '#222', 'stroke-width': 0.8}, svg);
    
    
  });
  f4XTicks.forEach(v => {
    powLabel(svg, sx(v), Y1 + 12, String(v), 8, 'middle', 'Liberation Serif');
    const tk = mk('line', {x1: sx(v), x2: sx(v), y1: Y1, y2: Y1 - 4, stroke: '#222', 'stroke-width': 0.8}, svg);
    
    
  });
  const xl = mk('text', {x: (X0 + X1) / 2, y: 378, 'font-size': 8, 'text-anchor': 'middle', fill: '#222', 'font-family': 'DejaVu Sans'}, svg);
  
  
  xl.textContent = 'Radius (R☉)';
  const yl = mk('text', {x: 0, y: 0, 'font-size': 8, 'text-anchor': 'middle', fill: '#222', 'font-family': 'DejaVu Sans', transform: 'translate(500,240) rotate(-90)'}, svg);
  
  
  yl.textContent = 'Luminosity (erg s⁻¹)';

  const red = mk('polyline', {points: convLogR.map((x, i) => sx(x) + ',' + sy(convL[i])).join(' '), fill: 'none', stroke: '#f01010', 'stroke-width': 0.8}, plot);
  
  
  const cyan = mk('polyline', {points: cyanLogR.map((x, i) => sx(x) + ',' + sy(cyanL[i])).join(' '), fill: 'none', stroke: '#30d0d0', 'stroke-width': 1}, plot);
  
  
  const green = mk('polyline', {points: greenLogR.map((x, i) => sx(x) + ',' + sy(greenL[i])).join(' '), fill: 'none', stroke: '#209020', 'stroke-width': 1}, plot);
  
  
  mesaLogR.forEach((x, i) => {
    const c = mk('circle', {cx: sx(x), cy: sy(mesaL[i]), r: 2.4, fill: '#101070'}, plot);
    
    
  });
  const mline = mk('polyline', {points: mesaLogR.map((x, i) => sx(x) + ',' + sy(mesaL[i])).join(' '), fill: 'none', stroke: '#101060', 'stroke-width': 4}, plot);
  
  
  enzoLogR.forEach((x, i) => {
    const s = mk('text', {x: sx(x), y: sy(enzoL[i]) + 3, 'font-size': 8, 'text-anchor': 'middle', fill: '#222'}, plot);
    
    
    s.textContent = '*';
  });
  // legend
  const lb = mk('rect', {x: 534, y: 197, width: 121, height: 86, fill: '#fff', stroke: '#444', 'stroke-width': 0.8}, svg);
  
  
  const legNames = ['L_tot MESA', 'L_conv analytic', 'L_rad + L_conv analytic', 'L_rad analytic', 'L_rad ENZO'];
  const legSub = [['tot', ' MESA'], ['conv', ' analytic'], ['rad', ' +L', 'conv', ' analytic'], ['rad', ' analytic'], ['rad', ' ENZO']];
  const legCol = ['#101070', '#f01010', '#30d0d0', '#209020', '#222'];
  legSub.forEach((parts, i) => {
    const y = 210 + i * 16.2;
    if (i === 0 || i === 4) {
      const m1 = mk('circle', {cx: 542, cy: y, r: i === 0 ? 2 : 1, fill: legCol[i]}, svg);
      
      
      const m2 = mk('circle', {cx: 553, cy: y, r: i === 0 ? 2 : 1, fill: legCol[i]}, svg);
      
      
    } else {
      const ln = mk('line', {x1: 539, x2: 556, y1: y, y2: y, stroke: legCol[i], 'stroke-width': 1}, svg);
      
      
    }
    const t = mk('text', {x: 563, y: y + 3, 'font-size': 8, fill: '#222', 'font-family': 'DejaVu Sans'}, svg);
    
    
    const L = mk('tspan', {'font-family': 'Liberation Serif', 'font-size': 9}, t);
    L.textContent = 'L';
    parts.forEach((p, j) => {
      const sp = mk('tspan', j % 2 === 0 ? {'font-size': 5, dy: 2} : {'font-size': 8, dy: -2}, t);
      sp.textContent = p;
    });
    t.setAttribute('aria-label', legNames[i]);
  });
})();
</script>
</body></html>
